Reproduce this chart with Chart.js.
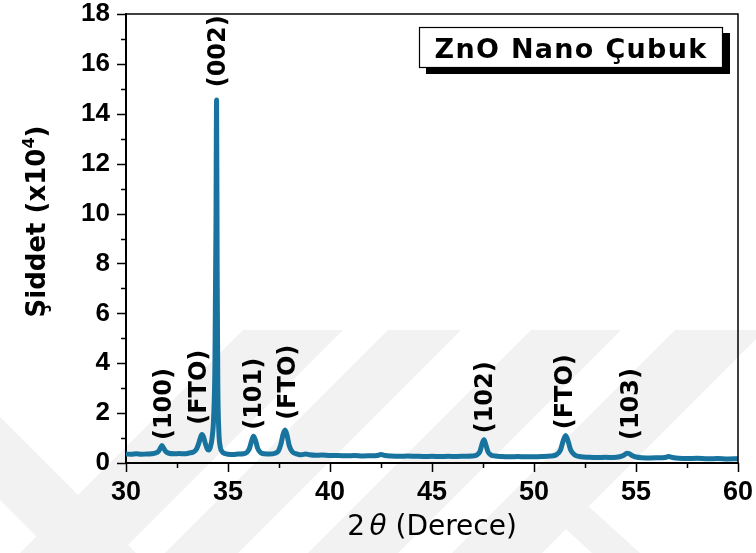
<!DOCTYPE html>
<html>
<head>
<meta charset="utf-8">
<script src="https://cdn.jsdelivr.net/npm/chart.js@4.4.1/dist/chart.umd.min.js"></script>
<style>
  html, body { margin: 0; padding: 0; background: #ffffff; }
  #wrap { width: 756px; height: 553px; position: relative; }
  canvas { display: block; }
</style>
</head>
<body>
<div id="wrap"><canvas id="xrd" width="756" height="553"></canvas></div>
<script>
// XRD scan of ZnO nanorods on FTO: 2θ (degrees) and intensity (x10^4 counts)
const twoTheta = [
  30.0, 30.25, 30.5, 30.75, 31.0, 31.25,
  31.45, 31.6, 31.7, 31.76, 31.84, 31.95, 32.1,
  32.35, 32.6, 32.85, 33.1, 33.3,
  33.45, 33.57, 33.65, 33.72, 33.8, 33.9, 33.98,
  34.05, 34.13, 34.22, 34.3, 34.36, 34.41, 34.44, 34.47, 34.5, 34.55, 34.62, 34.72, 34.85,
  35.0, 35.25, 35.5, 35.75,
  35.92, 36.05, 36.15, 36.25, 36.35, 36.45, 36.6, 36.8,
  37.05, 37.3,
  37.47, 37.6, 37.7, 37.8, 37.9, 38.0, 38.15, 38.4,
  38.6, 38.8, 39.0, 39.3, 39.6, 40.0, 40.4, 40.8, 41.2, 41.6, 42.0, 42.3,
  42.5, 42.7,
  43.0, 43.4, 43.8, 44.2, 44.6, 45.0, 45.4, 45.8, 46.2, 46.6, 46.95,
  47.2, 47.35, 47.45, 47.55, 47.65, 47.75, 47.9, 48.1,
  48.4, 48.8, 49.2, 49.6, 50.0, 50.4, 50.8,
  51.1, 51.3, 51.42, 51.55, 51.68, 51.8, 52.0, 52.3,
  52.7, 53.1, 53.5, 53.9, 54.2,
  54.4, 54.55, 54.65, 54.8, 55.0,
  55.3, 55.7, 56.1, 56.4,
  56.6, 56.8,
  57.1, 57.5, 58.0, 58.5, 59.0, 59.5, 60.0
];
const intensity = [
  0.36, 0.35, 0.37, 0.35, 0.36, 0.37,
  0.40, 0.48, 0.62, 0.70, 0.60, 0.46, 0.39,
  0.37, 0.38, 0.37, 0.40, 0.44,
  0.55, 0.80, 1.02, 1.14, 1.05, 0.75, 0.57,
  0.52, 0.62, 1.00, 1.90, 4.00, 9.50, 14.55, 7.40, 3.20, 1.30, 0.65, 0.45, 0.38,
  0.35, 0.34, 0.36, 0.37,
  0.42, 0.58, 0.86, 1.07, 0.90, 0.60, 0.42, 0.37,
  0.36, 0.39,
  0.48, 0.78, 1.15, 1.32, 1.10, 0.70, 0.45, 0.36,
  0.33, 0.36, 0.33, 0.31, 0.32, 0.30, 0.30, 0.29, 0.30, 0.28, 0.29, 0.30,
  0.34, 0.30,
  0.28, 0.27, 0.28, 0.27, 0.26, 0.27, 0.26, 0.27, 0.26, 0.27, 0.28,
  0.32, 0.46, 0.75, 0.93, 0.70, 0.44, 0.32, 0.28,
  0.26, 0.25, 0.26, 0.25, 0.25, 0.26, 0.28,
  0.33, 0.52, 0.86, 1.10, 0.85, 0.52, 0.32, 0.25,
  0.23, 0.22, 0.23, 0.22, 0.25,
  0.31, 0.39, 0.38, 0.30, 0.24,
  0.21, 0.20, 0.21, 0.22,
  0.26, 0.22,
  0.19, 0.18, 0.19, 0.17, 0.18, 0.16, 0.17
];

// Reflection labels: text and the 2θ / intensity where each label starts
const peakLabels = ['(100)', '(FTO)', '(002)', '(101)', '(FTO)', '(102)', '(FTO)', '(103)'];
const peakLabelX = [31.91, 33.63, 34.56, 36.32, 38.0, 47.66, 51.58, 54.77];
const peakLabelY = [0.92, 1.53, 15.06, 1.33, 1.73, 1.19, 1.35, 0.92];

// Axis ranges and tick spacing
const xRange = [30, 60];
const yRange = [0, 18];
const xMajorStep = 5, xMinorStep = 2.5;
const yMajorStep = 2, yMinorStep = 1;

const sampleName = 'ZnO Nano Çubuk';
const xTitleParts = ['2', 'θ', '(Derece)'];
const yTitleParts = ['Şiddet (x10', '4', ')'];

const LINE_COLOR = '#18739e';

const points = twoTheta.map((t, i) => ({ x: t, y: intensity[i] }));

// Faint chevron watermark behind the plot
const watermark = {
  id: 'watermark',
  beforeDraw(chart) {
    const ctx = chart.ctx;
    const W = chart.width, H = chart.height;
    ctx.save();
    ctx.beginPath();
    ctx.rect(0, 330, W, H - 330);
    ctx.clip();
    ctx.fillStyle = '#f2f2f2';
    const polys = [
      [[243, 330], [343, 330], [120, 553], [20, 553]],
      [[388, 330], [461, 330], [238, 553], [165, 553]],
      [[531, 330], [621, 330], [398, 553], [308, 553]],
      [[675, 330], [765, 330], [542, 553], [452, 553]],
      [[0, 417], [136, 553], [53, 553], [0, 500]],
      [[565, 485], [640, 553], [592, 553], [545, 510]]
    ];
    polys.forEach(p => {
      ctx.beginPath();
      ctx.moveTo(p[0][0], p[0][1]);
      for (let i = 1; i < p.length; i++) ctx.lineTo(p[i][0], p[i][1]);
      ctx.closePath();
      ctx.fill();
    });
    ctx.restore();
  }
};

// Frame, outward major/minor tick marks, axis titles, peak labels and sample box
const decorations = {
  id: 'decorations',
  afterDraw(chart) {
    const ctx = chart.ctx;
    const a = chart.chartArea;
    const xs = chart.scales.x, ys = chart.scales.y;
    ctx.save();

    // top and right frame lines
    ctx.strokeStyle = '#000';
    ctx.lineWidth = 1.5;
    ctx.beginPath();
    ctx.moveTo(a.left, a.top);
    ctx.lineTo(a.right, a.top);
    ctx.lineTo(a.right, a.bottom);
    ctx.stroke();

    // tick marks
    ctx.lineWidth = 1.5;
    ctx.beginPath();
    for (let v = xRange[0]; v <= xRange[1] + 1e-9; v += xMinorStep) {
      const px = Math.round(xs.getPixelForValue(v)) + 0.5;
      const major = Math.abs(v / xMajorStep - Math.round(v / xMajorStep)) < 1e-6;
      ctx.moveTo(px, a.bottom);
      ctx.lineTo(px, a.bottom + (major ? 9 : 5));
    }
    for (let v = yRange[0]; v <= yRange[1] + 1e-9; v += yMinorStep) {
      const py = Math.round(ys.getPixelForValue(v)) + 0.5;
      const major = Math.abs(v / yMajorStep - Math.round(v / yMajorStep)) < 1e-6;
      ctx.moveTo(a.left, py);
      ctx.lineTo(a.left - (major ? 9 : 5), py);
    }
    ctx.stroke();

    // peak labels, rotated
    ctx.fillStyle = '#000';
    ctx.font = 'bold 24px "DejaVu Sans"';
    ctx.textAlign = 'left';
    ctx.textBaseline = 'middle';
    peakLabels.forEach((t, i) => {
      const px = xs.getPixelForValue(peakLabelX[i]);
      const py = ys.getPixelForValue(peakLabelY[i]);
      ctx.save();
      ctx.translate(px, py);
      ctx.rotate(-Math.PI / 2);
      ctx.fillText(t, 0, 0);
      ctx.restore();
    });

    // x axis title: 2 θ (Derece)
    ctx.textBaseline = 'alphabetic';
    ctx.textAlign = 'left';
    const fReg = '28px "DejaVu Sans"';
    const fIt = 'italic 28px "DejaVu Sans"';
    ctx.font = fReg;
    const w0 = ctx.measureText(xTitleParts[0]).width;
    const wsp = ctx.measureText(' ').width;
    const w2 = ctx.measureText(xTitleParts[2]).width;
    ctx.font = fIt;
    const w1 = ctx.measureText(xTitleParts[1]).width;
    const gap1 = wsp * 0.5;
    const total = w0 + gap1 + w1 + wsp + w2;
    let xx = (a.left + a.right) / 2 - total / 2;
    const xBase = a.bottom + 72;
    ctx.font = fReg; ctx.fillText(xTitleParts[0], xx, xBase); xx += w0 + gap1;
    ctx.font = fIt; ctx.fillText(xTitleParts[1], xx, xBase); xx += w1 + wsp;
    ctx.font = fReg; ctx.fillText(xTitleParts[2], xx, xBase);

    // y axis title: Şiddet (x10^4)
    ctx.save();
    ctx.translate(45, (a.top + a.bottom) / 2 - 17);
    ctx.rotate(-Math.PI / 2);
    const fB = 'bold 26px "DejaVu Sans"';
    const fS = 'bold 16px "DejaVu Sans"';
    ctx.font = fB;
    const y0 = ctx.measureText(yTitleParts[0]).width;
    const y2 = ctx.measureText(yTitleParts[2]).width;
    ctx.font = fS;
    const y1 = ctx.measureText(yTitleParts[1]).width;
    let yx = -(y0 + y1 + y2) / 2;
    ctx.font = fB; ctx.fillText(yTitleParts[0], yx, 0); yx += y0;
    ctx.font = fS; ctx.fillText(yTitleParts[1], yx, -11); yx += y1;
    ctx.font = fB; ctx.fillText(yTitleParts[2], yx, 0);
    ctx.restore();

    // sample name box with drop shadow
    const bw = 304, bh = 41;
    const bx = a.right - 15 - bw, by = a.top + 13;
    ctx.fillStyle = '#000';
    ctx.fillRect(bx + 7, by + 6, bw, bh);
    ctx.fillStyle = '#fff';
    ctx.fillRect(bx, by, bw, bh);
    ctx.strokeStyle = '#000';
    ctx.lineWidth = 1.2;
    ctx.strokeRect(bx + 0.5, by + 0.5, bw - 1, bh - 1);
    ctx.fillStyle = '#000';
    ctx.font = 'bold 27px "DejaVu Sans"';
    ctx.letterSpacing = '1.3px';
    ctx.textAlign = 'center';
    ctx.textBaseline = 'alphabetic';
    ctx.fillText(sampleName, bx + bw / 2, by + 31);
    ctx.letterSpacing = '0px';

    ctx.restore();
  }
};

const tickFont = { family: '"Liberation Sans"', weight: 'bold', size: 27 };

new Chart(document.getElementById('xrd'), {
  type: 'line',
  data: {
    datasets: [{
      data: points,
      borderColor: LINE_COLOR,
      borderWidth: 5,
      pointRadius: 0,
      fill: false,
      cubicInterpolationMode: 'monotone',
      borderJoinStyle: 'round',
      borderCapStyle: 'round'
    }]
  },
  options: {
    responsive: false,
    animation: false,
    events: [],
    layout: { padding: { top: 14, right: 18, left: 0, bottom: 0 } },
    plugins: { legend: { display: false }, tooltip: { enabled: false }, title: { display: false } },
    scales: {
      x: {
        type: 'linear',
        min: xRange[0], max: xRange[1],
        ticks: { stepSize: xMajorStep, color: '#000', font: tickFont, padding: 13, maxRotation: 0, autoSkip: false },
        grid: { display: true, drawOnChartArea: false, drawTicks: false },
        border: { display: true, color: '#000', width: 2 },
        afterFit(s) { s.height = 90; s.paddingLeft = 0; s.paddingRight = 0; }
      },
      y: {
        type: 'linear',
        min: yRange[0], max: yRange[1],
        ticks: { stepSize: yMajorStep, color: '#000', font: { ...tickFont, size: 26 }, padding: 16, autoSkip: false },
        grid: { display: true, drawOnChartArea: false, drawTicks: false },
        border: { display: true, color: '#000', width: 2 },
        afterFit(s) { s.width = 126; s.paddingTop = 0; s.paddingBottom = 0; }
      }
    }
  },
  plugins: [watermark, decorations]
});
</script>
</body>
</html>
